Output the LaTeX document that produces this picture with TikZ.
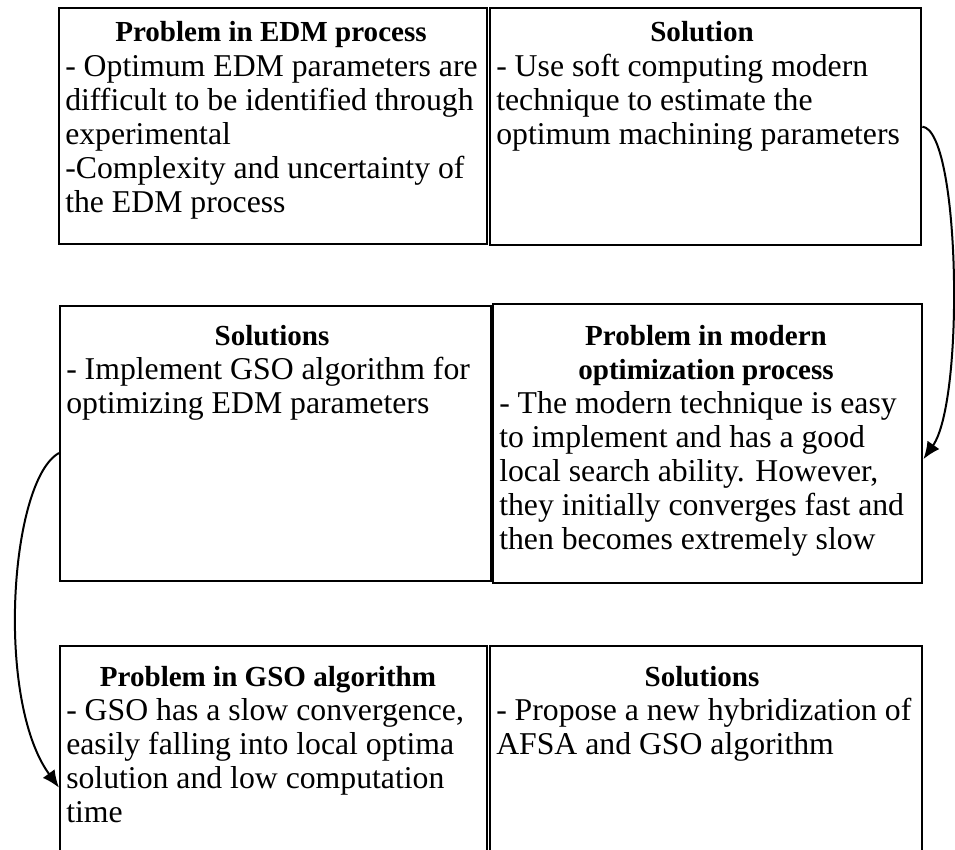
\documentclass[tikz,border=0pt]{standalone}
\usepackage{fontspec}
\setmainfont{Liberation Serif}
\usetikzlibrary{arrows.meta}
\newcommand{\ttltext}[1]{\parbox[t]{310pt}{\centering\bfseries #1}}
\newcommand{\bodytext}[1]{\parbox[t]{330pt}{\raggedright #1}}
\begin{document}
\begin{tikzpicture}[x=0.75pt,y=-0.75pt,
  box/.style={draw, line width=1.8pt, anchor=north west, inner sep=0pt},
  ttl/.style={font=\fontsize{21.8}{25.5}\selectfont, anchor=base, inner sep=0pt},
  body/.style={font=\fontsize{23.8}{25.5}\selectfont, anchor=base west, inner sep=0pt},
  conn/.style={line width=1.5pt, -{Latex[length=13pt,width=11pt]}}]
\clip (0,0) rectangle (955,849);
\fill[white] (0,0) rectangle (955,849);
% boxes
\node[box, minimum width=321pt, minimum height=177pt] (A) at (58,7) {};
\node[box, minimum width=323.25pt, minimum height=177.75pt] (B) at (489,7) {};
\node[box, minimum width=323.25pt, minimum height=206.25pt] (C) at (59,305) {};
\node[box, minimum width=321.75pt, minimum height=209.25pt] (D) at (492,303) {};
\node[box, minimum width=320.25pt, minimum height=195pt] (E) at (59,645) {};
\node[box, minimum width=324pt, minimum height=195pt] (F) at (489,645) {};
% texts
\node[ttl] (tA) at (271,42) {\ttltext{Problem in EDM process}};
\node[body] (bA) at (65,76) {\bodytext{- Optimum EDM parameters are\\difficult to be identified through\\experimental\\-Complexity and uncertainty of\\the EDM process}};
\node[ttl] (tB) at (702,42) {\ttltext{Solution}};
\node[body] (bB) at (496,76) {\bodytext{- Use soft computing modern\\technique to estimate the\\optimum machining parameters}};
\node[ttl] (tC) at (272,345) {\ttltext{Solutions}};
\node[body] (bC) at (66,379) {\bodytext{- Implement GSO algorithm for\\optimizing EDM parameters}};
\node[ttl] (tD) at (706,345) {\ttltext{Problem in modern\\optimization process}};
\node[body] (bD) at (499,413) {\bodytext{- The modern technique is easy\\to implement and has a good\\local search ability. However,\\they initially converges fast and\\then becomes extremely slow}};
\node[ttl] (tE) at (268,686) {\ttltext{Problem in GSO algorithm}};
\node[body] (bE) at (66,720) {\bodytext{- GSO has a slow convergence,\\easily falling into local optima\\solution and low computation\\time}};
\node[ttl] (tF) at (702,686) {\ttltext{Solutions}};
\node[body] (bF) at (496,720) {\bodytext{- Propose a new hybridization of\\AFSA and GSO algorithm}};
% connectors
\draw[conn] (B.east) .. controls (960,130) and (965,400) .. ([yshift=-11.6pt]D.east);
\draw[conn] ([yshift=-7pt]C.west) .. controls (10,480) and (-5,700) .. ([yshift=-107pt]E.north west);
\end{tikzpicture}
\end{document}
